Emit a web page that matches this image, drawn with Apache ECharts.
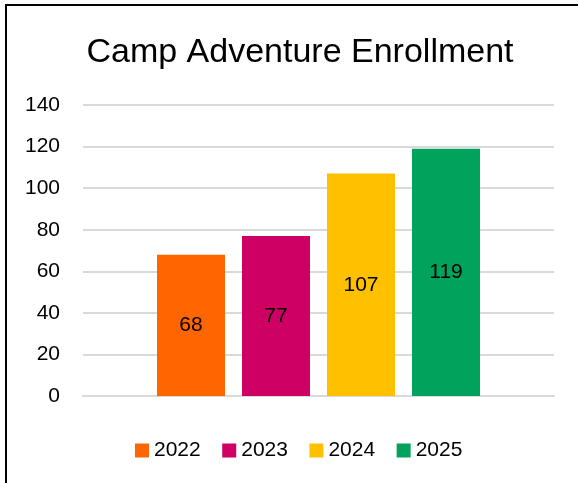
<!DOCTYPE html>
<html>
<head>
<meta charset="utf-8">
<script src="https://cdn.jsdelivr.net/npm/echarts@6/dist/echarts.min.js"></script>
<style>
  html, body { margin: 0; padding: 0; background: #fff; }
  #main { width: 578px; height: 483px; }
</style>
</head>
<body>
<div id="main"></div>
<script>
var chartDom = document.getElementById('main');
var myChart = echarts.init(chartDom);
var option;

// data
var titleText = 'Camp Adventure Enrollment';
var years = ['2022', '2023', '2024', '2025'];
var enrollment = [68, 77, 107, 119];
var colors = ['#FF6600', '#CF0063', '#FFC000', '#00A25C'];
var yTicks = { min: 0, max: 140, interval: 20 };

var fontName = '"Liberation Sans", Arial, sans-serif';

var series = years.map(function (y, i) {
    return {
        name: y,
        type: 'bar',
        data: [enrollment[i]],
        barWidth: 68,
        barGap: '25%',
        itemStyle: { color: colors[i] },
        label: {
            show: true,
            position: 'inside',
            color: '#000',
            fontSize: 21,
            fontFamily: fontName
        }
    };
});

option = {
    animation: false,
    backgroundColor: '#fff',
    textStyle: { fontFamily: fontName },
    graphic: [
        {
            type: 'rect',
            shape: { x: 6, y: 5, width: 700, height: 700 },
            style: { fill: 'none', stroke: '#000', lineWidth: 2 },
            silent: true
        }
    ],
    title: {
        text: titleText,
        left: 295,
        textAlign: 'center',
        top: 31,
        textStyle: {
            fontFamily: fontName,
            fontSize: 34,
            fontWeight: 'normal',
            color: '#000'
        }
    },
    legend: {
        data: years,
        left: 135,
        top: 440,
        padding: 0,
        itemWidth: 14,
        itemHeight: 14,
        itemGap: 21.5,
        icon: 'rect',
        textStyle: { fontSize: 21, color: '#000', fontFamily: fontName }
    },
    grid: {
        left: 83,
        right: 24,
        top: 105,
        bottom: 87,
        containLabel: false
    },
    xAxis: {
        type: 'category',
        data: [''],
        axisLine: { show: true, lineStyle: { color: '#d9d9d9', width: 2 } },
        axisTick: { show: false },
        axisLabel: { show: false }
    },
    yAxis: {
        type: 'value',
        min: yTicks.min,
        max: yTicks.max,
        interval: yTicks.interval,
        axisLine: { show: false },
        axisTick: { show: false },
        axisLabel: { fontSize: 21, color: '#000', margin: 23, fontFamily: fontName },
        splitLine: { lineStyle: { color: '#d9d9d9', width: 2 } }
    },
    series: series
};

option && myChart.setOption(option);
</script>
</body>
</html>
